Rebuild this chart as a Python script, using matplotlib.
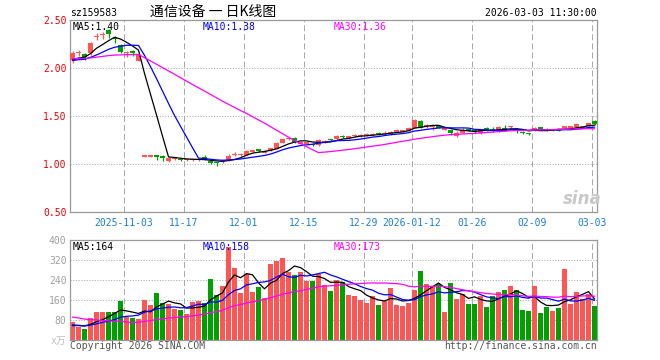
import numpy as np
import matplotlib
matplotlib.use('Agg')
import matplotlib.pyplot as plt

plt.rcParams['font.family'] = ['DejaVu Sans Mono', 'Noto Sans CJK SC']

code = 'sz159583'
title = '通信设备 一 日K线图'
stamp = '2026-03-03 11:30:00'

# daily candles, 88 sessions (2:1 split after the 12th)
opens = [2.09, 2.155, 2.15, 2.16, 2.325, 2.345, 2.40, 2.31, 2.24, 2.155, 2.165, 2.08,
         1.08, 1.08, 1.085, 1.09, 1.03, 1.05, 1.05, 1.04, 1.04, 1.045, 1.08, 1.03,
         1.015, 1.02, 1.04, 1.095, 1.095, 1.10, 1.13, 1.145, 1.115, 1.15, 1.16, 1.22,
         1.26, 1.27, 1.215, 1.215, 1.205, 1.20, 1.225, 1.255, 1.26, 1.285, 1.275, 1.295,
         1.295, 1.30, 1.305, 1.315, 1.31, 1.31, 1.34, 1.34, 1.345, 1.38, 1.455, 1.395,
         1.385, 1.385, 1.36, 1.36, 1.29, 1.33, 1.355, 1.36, 1.32, 1.38, 1.36, 1.355,
         1.38, 1.385, 1.37, 1.33, 1.315, 1.35, 1.375, 1.36, 1.35, 1.355, 1.38, 1.38,
         1.39, 1.38, 1.395, 1.45]
highs = [2.18, 2.19, 2.16, 2.27, 2.36, 2.38, 2.41, 2.33, 2.25, 2.18, 2.19, 2.15,
         1.09, 1.09, 1.095, 1.095, 1.07, 1.06, 1.055, 1.05, 1.05, 1.055, 1.09, 1.04,
         1.02, 1.04, 1.10, 1.12, 1.11, 1.15, 1.15, 1.16, 1.145, 1.17, 1.23, 1.265,
         1.28, 1.28, 1.235, 1.235, 1.215, 1.26, 1.245, 1.265, 1.30, 1.30, 1.29, 1.31,
         1.31, 1.32, 1.32, 1.33, 1.34, 1.345, 1.36, 1.355, 1.385, 1.47, 1.46, 1.415,
         1.40, 1.395, 1.375, 1.365, 1.34, 1.37, 1.365, 1.365, 1.365, 1.39, 1.385, 1.395,
         1.41, 1.40, 1.375, 1.34, 1.32, 1.385, 1.385, 1.37, 1.365, 1.36, 1.395, 1.395,
         1.42, 1.395, 1.43, 1.455]
lows = [2.05, 2.13, 2.08, 2.14, 2.29, 2.30, 2.31, 2.26, 2.16, 2.11, 2.13, 2.07,
        1.075, 1.075, 1.045, 1.03, 1.02, 1.04, 1.03, 1.03, 1.03, 1.035, 1.04, 0.995,
        0.98, 1.01, 1.03, 1.085, 1.085, 1.095, 1.12, 1.12, 1.11, 1.14, 1.155, 1.215,
        1.25, 1.22, 1.205, 1.205, 1.185, 1.19, 1.215, 1.235, 1.255, 1.27, 1.26, 1.285,
        1.285, 1.29, 1.295, 1.30, 1.305, 1.305, 1.33, 1.33, 1.34, 1.375, 1.375, 1.38,
        1.355, 1.37, 1.35, 1.30, 1.28, 1.325, 1.34, 1.325, 1.315, 1.34, 1.33, 1.335,
        1.34, 1.375, 1.32, 1.31, 1.30, 1.345, 1.36, 1.345, 1.345, 1.34, 1.37, 1.375,
        1.385, 1.375, 1.39, 1.41]
closes = [2.16, 2.16, 2.12, 2.26, 2.33, 2.35, 2.36, 2.30, 2.17, 2.16, 2.16, 2.14,
          1.085, 1.085, 1.08, 1.06, 1.06, 1.055, 1.045, 1.045, 1.045, 1.05, 1.045, 1.01,
          1.01, 1.025, 1.09, 1.10, 1.10, 1.14, 1.135, 1.14, 1.14, 1.155, 1.22, 1.26,
          1.27, 1.235, 1.22, 1.22, 1.20, 1.25, 1.23, 1.25, 1.29, 1.28, 1.28, 1.30,
          1.30, 1.31, 1.31, 1.31, 1.33, 1.34, 1.345, 1.345, 1.375, 1.465, 1.38, 1.40,
          1.39, 1.38, 1.365, 1.32, 1.33, 1.36, 1.35, 1.335, 1.36, 1.345, 1.355, 1.39,
          1.35, 1.39, 1.35, 1.325, 1.31, 1.38, 1.37, 1.355, 1.355, 1.35, 1.385, 1.385,
          1.415, 1.385, 1.425, 1.415]
# volume, 10k lots
volumes = [71, 53, 44, 87, 111, 111, 111, 111, 156, 93, 87, 84,
           160, 140, 188, 147, 143, 124, 120, 103, 152, 156, 147, 244,
           180, 216, 373, 288, 188, 263, 192, 212, 168, 304, 316, 328,
           272, 260, 272, 236, 236, 265, 220, 196, 240, 233, 180, 176,
           160, 149, 176, 140, 156, 208, 140, 136, 149, 200, 276, 224,
           216, 224, 112, 228, 164, 184, 144, 144, 176, 133, 176, 193,
           200, 216, 200, 120, 116, 216, 108, 132, 116, 128, 284, 144,
           192, 164, 184, 136]
# sessions before the window, only used to seed the moving averages
prior_closes = [2.11, 2.12, 2.10, 2.09, 2.11, 2.12, 2.13, 2.11, 2.10, 2.12,
                2.11, 2.09, 2.10, 2.12, 2.11, 2.10, 2.09, 2.11, 2.12, 2.10,
                2.08, 2.07, 2.06, 2.08, 2.07, 2.06, 2.08, 2.07, 2.05]
prior_volumes = [150, 172, 165, 148, 170, 158, 162, 155, 168, 152,
                 60, 54, 58, 52, 61, 55, 57, 53, 59, 56,
                 54, 58, 55, 57, 53, 58, 56, 55, 59]

date_pos = [9, 19, 29, 39, 49, 57, 67, 77, 87]
date_labels = ['2025-11-03', '11-17', '12-01', '12-15', '12-29',
               '2026-01-12', '01-26', '02-09', '03-03']
price_ticks = [0.5, 1.0, 1.5, 2.0, 2.5]
vol_ticks = [0, 80, 160, 240, 320, 400]
vol_tick_labels = ['x万', '80', '160', '240', '320', '400']
ma_windows = [5, 10, 30]
ma_colors = ['black', '#0000ff', '#ff00ff']
ma_price_text = ['MA5:1.40', 'MA10:1.38', 'MA30:1.36']
ma_vol_text = ['MA5:164', 'MA10:158', 'MA30:173']

RED, GREEN = '#ff5555', '#00a000'
W, H = 660, 360


def moving_avg(prior, values, n):
    s = np.concatenate([prior, values])
    return np.convolve(s, np.ones(n) / n, mode='valid')[-len(values):]


def rect(l, t, r, b):
    return [l / W, 1 - b / H, (r - l) / W, (b - t) / H]


def fpos(x, y):
    return x / W, 1 - y / H


o, h, l, c = map(np.array, (opens, highs, lows, closes))
v = np.array(volumes, dtype=float)
n = len(c)
x = np.arange(n)
xc = x + 0.42
colors = np.where(c >= o, RED, GREEN)

fig = plt.figure(figsize=(6.6, 3.6), dpi=100)
ax = fig.add_axes(rect(70, 20, 597, 212))
axv = fig.add_axes(rect(70, 240, 597, 340))

for a in (ax, axv):
    a.set_xlim(0, 527 / 6)
    for s in a.spines.values():
        s.set_color('#999999')
        s.set_linewidth(0.9)
    for p in date_pos:
        a.axvline(p, color='#aaaaaa', lw=0.75, ls=(0, (5.8, 2.9)), zorder=0)

# price panel
ax.set_ylim(0.5, 2.5)
for t in price_ticks[1:-1]:
    ax.axhline(t, color='#aaaaaa', lw=0.75, ls=(0, (1, 1.6)), zorder=0)
ax.vlines(xc, l, h, colors=colors, lw=0.9, zorder=2)
ax.bar(x, np.maximum(np.abs(c - o), 0.014), bottom=np.minimum(o, c) - 0.002,
       width=5 / 6, align='edge', color=colors, lw=0, zorder=3)
for w, col in zip(ma_windows, ma_colors):
    ax.plot(xc, moving_avg(prior_closes, c, w), color=col, lw=0.9, zorder=4)
ax.set_yticks(price_ticks, ['%.2f' % t for t in price_ticks])
ax.set_xticks(date_pos, date_labels)
ax.tick_params(axis='y', length=0, pad=2.5, labelsize=7, labelcolor='#ee0000')
ax.tick_params(axis='x', length=0, pad=4, labelsize=7, labelcolor='#1a7fd4')

# volume panel
axv.set_ylim(0, 400)
for t in vol_ticks[1:-1]:
    axv.axhline(t, color='#aaaaaa', lw=0.75, ls=(0, (1, 1.6)), zorder=0)
axv.bar(x, v, width=5 / 6, align='edge', color=colors, lw=0, zorder=2)
for w, col in zip(ma_windows, ma_colors):
    axv.plot(xc, moving_avg(prior_volumes, v, w), color=col, lw=0.9, zorder=4)
axv.set_yticks(vol_ticks, vol_tick_labels)
axv.set_xticks([])
axv.tick_params(axis='y', length=0, pad=2.5, labelsize=7, labelcolor='#a0a0a0')
axv.get_yticklabels()[0].set_color('#c0c0c0')

# texts
for txt, col, px in zip(ma_price_text, ma_colors, [73, 203, 334]):
    fig.text(*fpos(px, 27), txt, color=col, fontsize=7, va='center')
for txt, col, px in zip(ma_vol_text, ma_colors, [73, 203, 334]):
    fig.text(*fpos(px, 247), txt, color=col, fontsize=7, va='center')

fig.text(*fpos(70, 13), code, fontsize=7, va='center')
fig.text(*fpos(213, 12), title, fontsize=10, ha='center', va='center',
         family=['Noto Sans CJK SC', 'DejaVu Sans'])
fig.text(*fpos(597, 13), stamp, fontsize=7, ha='right', va='center')
fig.text(*fpos(70, 346), 'Copyright 2026 SINA.COM', fontsize=7, color='#555555', va='center')
fig.text(*fpos(597, 346), 'http://finance.sina.com.cn', fontsize=7, color='#555555',
         ha='right', va='center')
fig.text(*fpos(582, 199), 'sina', fontsize=12, color='#c8c8c8', ha='center', va='center',
         style='italic', weight='bold', family='DejaVu Sans')

fig.savefig('out.png', dpi=100, facecolor='white')
